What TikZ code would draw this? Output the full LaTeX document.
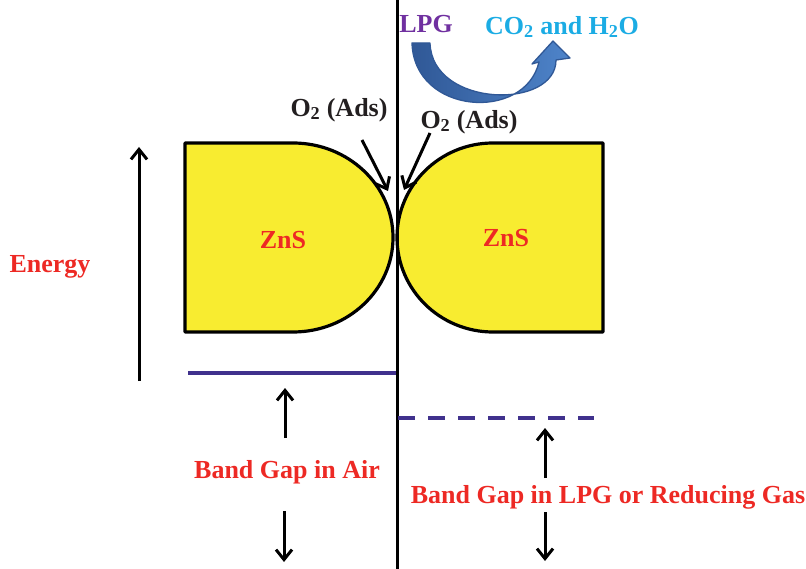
\documentclass[tikz,border=0pt]{standalone}
\usepackage{fontspec}
\setmainfont{Liberation Serif}
\usepackage{tikz}
\usetikzlibrary{
    arrows.meta
}
\definecolor{LabelRed}{RGB}{237,41,36}
\definecolor{GasPurple}{RGB}{112,48,160}
\definecolor{ProdBlue}{RGB}{27,172,228}
\definecolor{BandBlue}{RGB}{64,49,141}
\definecolor{ZnsYellow}{RGB}{248,236,48}
\definecolor{FlowBlue}{RGB}{78,132,202}
\definecolor{FlowDark}{RGB}{48,88,150}
\definecolor{AdsBlack}{RGB}{35,31,32}

\begin{document}
\begin{tikzpicture}[
    x=1pt, y=-1pt,
    lbl/.style={font=\fontsize{26}{30}\selectfont\bfseries, inner sep=0pt},
    grain/.style={draw, line width=3.2pt, fill=ZnsYellow, line join=round},
    arr/.style={-{Straight Barb[length=10pt,width=16pt]}, line width=3pt},
    band/.style={BandBlue, line width=3.5pt},
    flow/.style={draw=FlowDark, line width=1.3pt, left color=FlowDark,
                 right color=FlowBlue, line join=round}
]
\useasboundingbox (0,0) rectangle (806,569);

% grains
\draw[grain] (185,143) -- (293,143)
    arc[start angle=-90, end angle=90, x radius=100, y radius=94.5]
    -- (185,332) -- cycle;
\draw[grain] (603,143) -- (493,143)
    arc[start angle=-90, end angle=-270, x radius=96, y radius=94.5]
    -- (603,332) -- cycle;

% grain boundary
\coordinate (gtop) at (397,0);
\coordinate (gbot) at (397,569);
\draw[line width=3pt] (gtop) -- (gbot);

\node[lbl, LabelRed] (znsL) at (283,240) {ZnS};
\node[lbl, LabelRed] (znsR) at (506,238) {ZnS};

% energy axis
\node[lbl, LabelRed] (energy) at (50,267) {Energy};
\coordinate (ebot) at (139,381);
\coordinate (etop) at (139,147);
\draw[arr] (ebot) -- (etop);

% adsorbed oxygen
\node[lbl, AdsBlack] (adsL) at (339,110) {O\textsubscript{2} (Ads)};
\node[lbl, AdsBlack] (adsR) at (469,122) {O\textsubscript{2} (Ads)};
\coordinate (adsLs) at (362,140);
\coordinate (adsLe) at (388,191);
\coordinate (adsRs) at (430,133);
\coordinate (adsRe) at (404,190);
\draw[arr] (adsLs) -- (adsLe);
\draw[arr] (adsRs) -- (adsRe);

% gas reaction
\node[lbl, GasPurple] (lpg) at (426,24) {LPG};
\node[lbl, ProdBlue] (prod) at (562,27) {CO\textsubscript{2} and H\textsubscript{2}O};
\coordinate (tailA) at (412,43);
\coordinate (tailB) at (430,43);
\coordinate (tip) at (553,41);
\path[flow] (tailA) .. controls (414,115) and (525,122) .. (539,62)
    -- (532,64) -- (tip) -- (570,58) -- (556,60)
    .. controls (556,110) and (432,108) .. (tailB) -- cycle;

% band edges
\coordinate (airL) at (188,373);
\coordinate (airR) at (396,373);
\coordinate (lpgL) at (398,418);
\coordinate (lpgR) at (594,418);
\draw[band] (airL) -- (airR);
\draw[band, dash pattern=on 17pt off 13pt] (lpgL) -- (lpgR);

% band gaps
\node[lbl, LabelRed] (gapAir) at (287,472) {Band Gap in Air};
\node[lbl, LabelRed] (gapLpg) at (608,497) {Band Gap in LPG or Reducing Gas};
\coordinate (airUpS) at (285,438);
\coordinate (airUpE) at (285,388);
\coordinate (airDnS) at (284,511);
\coordinate (airDnE) at (284,562);
\coordinate (lpgUpS) at (545,478);
\coordinate (lpgUpE) at (545,428);
\coordinate (lpgDnS) at (545,512);
\coordinate (lpgDnE) at (545,561);
\draw[arr] (airUpS) -- (airUpE);
\draw[arr] (airDnS) -- (airDnE);
\draw[arr] (lpgUpS) -- (lpgUpE);
\draw[arr] (lpgDnS) -- (lpgDnE);
\end{tikzpicture}
\end{document}
